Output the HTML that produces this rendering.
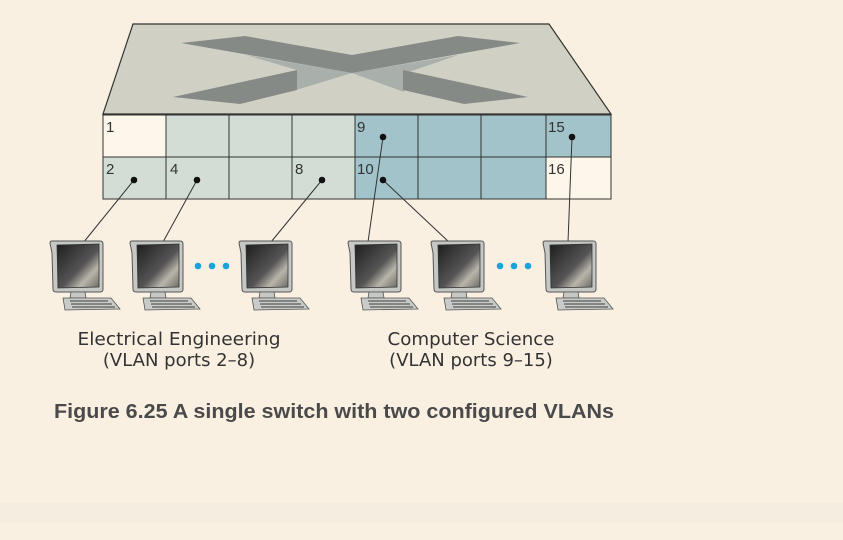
<!DOCTYPE html>
<html><head><meta charset="utf-8"><style>
html,body{margin:0;padding:0;background:#f9f0e2;}
svg{display:block}
</style></head><body>
<svg width="843" height="540" viewBox="0 0 843 540" xmlns="http://www.w3.org/2000/svg">
<defs>
<linearGradient id="scr" x1="0" y1="0" x2="1" y2="1">
<stop offset="0" stop-color="#1e1e1e"/><stop offset="0.55" stop-color="#555"/><stop offset="0.75" stop-color="#b9b5aa"/><stop offset="1" stop-color="#6a6a66"/>
</linearGradient>
<g id="pc">
<path d="M-1,12 L-3,2 Q-3,0 -1,0 L47,0 Q50,0 50,3 L50,48 Q50,51 47,51 L3,51 Q0,51 0,48 Z" fill="#c5c8c4" stroke="#555" stroke-width="1"/>
<path d="M4,4 L46,3 L46,46 L5,47 Z" fill="url(#scr)" stroke="#333" stroke-width="0.8"/>
<path d="M18,51 L32,51 L33,57 L17,57 Z" fill="#c5c8c4" stroke="#555" stroke-width="0.8"/>
<path d="M10,57 L58,57 L67,68 L12,69 Z" fill="#c8cbc7" stroke="#555" stroke-width="0.8"/>
<path d="M17,60 L55,60 M18,63 L59,63 M19,66 L62,66" stroke="#6b6e6c" stroke-width="1.4"/>
</g>
</defs>
<rect x="0" y="503" width="843" height="20" fill="#f5ede0"/>
<polygon points="133,24 549,24 611,114 103,114" fill="#d1d0c5" stroke="#333" stroke-width="1.2"/>
<polygon points="246,55 352,73 458,55 403,74 404,92 352,73 296,90 297,70" fill="#a9afab"/>
<polygon points="181,43 245,36 352,55 458,36 520,43 352,73" fill="#858a87"/>
<polygon points="297,70 297,90 240,104 173,97" fill="#858a87"/>
<polygon points="403,70 403,90 464,104 528,97" fill="#858a87"/>
<g stroke="#333" stroke-width="1">
<rect x="103" y="115" width="63" height="42" fill="#fdf6ea"/>
<rect x="166" y="115" width="63" height="42" fill="#d2ddd6"/>
<rect x="229" y="115" width="63" height="42" fill="#d2ddd6"/>
<rect x="292" y="115" width="63" height="42" fill="#d2ddd6"/>
<rect x="355" y="115" width="63" height="42" fill="#a1c3c9"/>
<rect x="418" y="115" width="63" height="42" fill="#a1c3c9"/>
<rect x="481" y="115" width="65" height="42" fill="#a1c3c9"/>
<rect x="546" y="115" width="65" height="42" fill="#a1c3c9"/>
<rect x="103" y="157" width="63" height="42" fill="#d2ddd6"/>
<rect x="166" y="157" width="63" height="42" fill="#d2ddd6"/>
<rect x="229" y="157" width="63" height="42" fill="#d2ddd6"/>
<rect x="292" y="157" width="63" height="42" fill="#d2ddd6"/>
<rect x="355" y="157" width="63" height="42" fill="#a1c3c9"/>
<rect x="418" y="157" width="63" height="42" fill="#a1c3c9"/>
<rect x="481" y="157" width="65" height="42" fill="#a1c3c9"/>
<rect x="546" y="157" width="65" height="42" fill="#fdf6ea"/>
</g>
<g font-family="Liberation Sans, sans-serif" font-size="15" fill="#333">
<text x="106" y="132">1</text><text x="357" y="132">9</text><text x="548" y="132">15</text>
<text x="106" y="174">2</text><text x="170" y="174">4</text><text x="295" y="174">8</text><text x="357" y="174">10</text><text x="548" y="174">16</text>
</g>
<g stroke="#333" stroke-width="1">
<line x1="134" y1="180" x2="83" y2="243"/><line x1="197" y1="180" x2="163" y2="242"/>
<line x1="322" y1="180" x2="271" y2="242"/><line x1="383" y1="137" x2="368" y2="242"/>
<line x1="383" y1="180" x2="450" y2="243"/><line x1="572" y1="137" x2="568" y2="242"/>
</g>
<g fill="#111">
<circle cx="134" cy="180" r="3.3"/><circle cx="197" cy="180" r="3.3"/><circle cx="322" cy="180" r="3.3"/>
<circle cx="383" cy="137" r="3.3"/><circle cx="383" cy="180" r="3.3"/><circle cx="572" cy="137" r="3.3"/>
</g>
<use href="#pc" x="53" y="241"/><use href="#pc" x="133" y="241"/><use href="#pc" x="242" y="241"/>
<use href="#pc" x="351" y="241"/><use href="#pc" x="434" y="241"/><use href="#pc" x="546" y="241"/>
<g fill="#1aa3db"><circle cx="198" cy="266" r="3.3"/><circle cx="212" cy="266" r="3.3"/><circle cx="226" cy="266" r="3.3"/>
<circle cx="500" cy="266" r="3.3"/><circle cx="514" cy="266" r="3.3"/><circle cx="528" cy="266" r="3.3"/></g>
<g font-family="DejaVu Sans, Liberation Sans, sans-serif" font-size="18" fill="#333" text-anchor="middle">
<text x="179" y="345" textLength="203" lengthAdjust="spacingAndGlyphs">Electrical Engineering</text><text x="179" y="366">(VLAN ports 2–8)</text>
<text x="471" y="345" textLength="167" lengthAdjust="spacingAndGlyphs">Computer Science</text><text x="471" y="366">(VLAN ports 9–15)</text>
</g>
<text x="54" y="418" font-family="Liberation Sans, sans-serif" font-weight="bold" font-size="20" fill="#4a4a4a" textLength="560" lengthAdjust="spacingAndGlyphs">Figure 6.25 A single switch with two configured VLANs</text>
</svg>
</body></html>
